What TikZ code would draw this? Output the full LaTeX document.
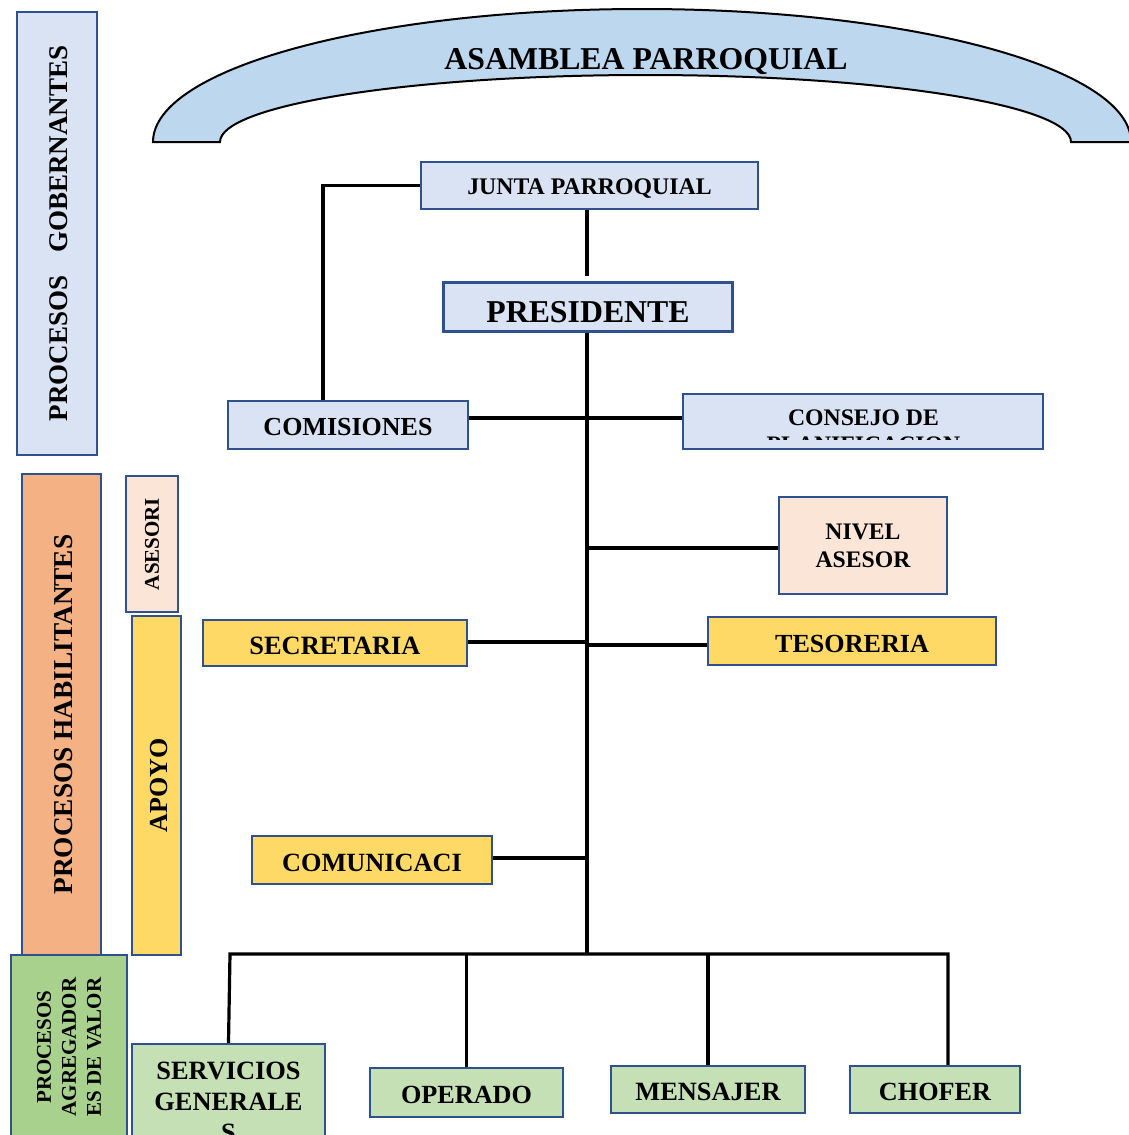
\documentclass[tikz,border=0pt]{standalone}
\usepackage{fontspec}
\setmainfont{Liberation Serif}
\usepackage{tikz}
\usetikzlibrary{positioning, calc}

\definecolor{borde}{HTML}{2F528F}
\definecolor{azulc}{HTML}{DAE3F3}
\definecolor{arcoc}{HTML}{BDD7EE}
\definecolor{salmon}{HTML}{F4B183}
\definecolor{durazno}{HTML}{FBE5D6}
\definecolor{amarillo}{HTML}{FFD966}
\definecolor{verdeo}{HTML}{A9D18E}
\definecolor{verdec}{HTML}{C5E0B4}

\begin{document}
\begin{tikzpicture}[
  x=1pt, y=-1pt,
  caja/.style   = {draw=borde, line width=2.3pt, inner sep=0pt, align=center},
  gob/.style    = {caja, fill=azulc},
  hab/.style    = {caja, fill=salmon},
  ase/.style    = {caja, fill=durazno},
  apo/.style    = {caja, fill=amarillo},
  agr/.style    = {caja, fill=verdeo},
  val/.style    = {caja, fill=verdec},
  txt/.style 2 args = {font=\fontsize{#1}{#2}\selectfont\bfseries},
  una/.style    = {text height=#1, text depth=0pt},
  arco/.style   = {draw=black, line width=2pt, fill=arcoc},
  lin/.style    = {draw=black, line width=3.2pt},
]
\useasboundingbox (0,0) rectangle (1128,1135);

%% Asamblea
\draw[arco] (153,142) arc[start angle=180, end angle=0, x radius=489pt, y radius=133pt]
  -- (1071,142) arc[start angle=0, end angle=180, x radius=425.5pt, y radius=67pt] -- cycle;
\node[txt={31.8}{36}, anchor=base] (asamblea) at (646,69) {ASAMBLEA PARROQUIAL};

%% Side bars
\node[gob, rotate=90, minimum width=443pt, minimum height=80pt, txt={27}{32}, una=21.9pt]
     (gober) at (57,233.5) {PROCESOS\hspace{0.85em}GOBERNANTES};
\node[hab, rotate=90, minimum width=481pt, minimum height=79pt, txt={27.3}{32}, una=21.1pt]
     (habil) at (61.5,714.5) {PROCESOS HABILITANTES};
\node[ase, rotate=90, minimum width=136pt, minimum height=52pt, txt={21}{25}]
     (asesori) at (152,544) {ASESORI};
\node[apo, rotate=90, minimum width=339pt, minimum height=49pt, txt={26}{30}, una=22.2pt]
     (apoyo) at (156.5,785.5) {APOYO};
\node[agr, rotate=90, minimum width=184pt, minimum height=116pt, txt={21}{25}]
     (agreg) at (69,1047) {PROCESOS\\AGREGADOR\\ES DE VALOR};

%% Junta and presidente
\node[gob, minimum width=337pt, minimum height=47pt, txt={23.8}{28}, una=17.8pt]
     (junta) at (589.5,185.5) {JUNTA PARROQUIAL};
\node[gob, minimum width=289pt, minimum height=49pt] (pres) at (588,307) {};
\begin{scope}
  \clip (pres.north west) rectangle ([yshift=9.8pt]pres.south east);
  \node[txt={31.8}{36}, anchor=base] (prestxt) at (588,322.7) {PRESIDENTE};
\end{scope}

%% Comisiones and consejo
\node[gob, minimum width=240pt, minimum height=48pt, txt={26}{30}, una=21.2pt]
     (comis) at (348,425) {COMISIONES};
\node[gob, minimum width=360pt, minimum height=55pt] (consejo) at (863,421.5) {};
\begin{scope}
  \clip (consejo.north west) rectangle ([yshift=10.2pt]consejo.south east);
  \node[txt={23.7}{26.7}, align=center, anchor=north, inner sep=0pt]
       (consejotxt) at (863.5,410) {CONSEJO DE\\PLANIFICACION};
\end{scope}

%% Asesor and apoyo
\node[ase, minimum width=168pt, minimum height=97pt, txt={23.7}{28}]
     (asesor) at (863,545.5) {NIVEL\\ASESOR};
\node[apo, minimum width=264pt, minimum height=46pt, txt={26.4}{30}, una=23.5pt]
     (secr) at (335,643) {SECRETARIA};
\node[apo, minimum width=288pt, minimum height=48pt, txt={26.1}{30}, una=23.3pt]
     (teso) at (852,641) {TESORERIA};
\node[apo, minimum width=240pt, minimum height=48pt, txt={26.3}{30}, una=22.4pt]
     (comu) at (372,860) {COMUNICACI};

%% Agregadores de valor
\node[val, minimum width=193pt, minimum height=116pt, txt={26.4}{31.3}]
     (serv) at (228.5,1102) {SERVICIOS\\GENERALE\\S};
\node[val, minimum width=193pt, minimum height=49pt, txt={26.2}{30}, una=22.3pt]
     (oper) at (466.5,1092.5) {OPERADO};
\node[val, minimum width=194pt, minimum height=47pt, txt={26.4}{30}, una=22.4pt]
     (mens) at (708,1089.5) {MENSAJER};
\node[val, minimum width=170pt, minimum height=47pt, txt={26.2}{30}, una=22.3pt]
     (chof) at (935,1089.5) {CHOFER};

%% Connectors
\coordinate (eje)  at (587,0);
\coordinate (bus)  at (587,954);
\coordinate (busI) at (230,954);
\coordinate (busD) at (948,954);

\draw[lin, shorten >=5pt] (junta.south -| eje) -- (pres.north -| eje);
\draw[lin] (junta.west) -| ([xshift=-25pt]comis.north);
\draw[lin] (pres.south -| eje) -- (bus);
\draw[lin] ([yshift=7pt]comis.east) -- ([yshift=7pt]comis.east -| consejo.west);
\draw[lin] ([yshift=-2.5pt]asesor.west -| eje) -- ([yshift=-2.5pt]asesor.west);
\draw[lin] ([yshift=1pt]secr.east) -- ([yshift=1pt]secr.east -| eje);
\draw[lin] ([yshift=-4pt]teso.west -| eje) -- ([yshift=-4pt]teso.west);
\draw[lin] ([yshift=2pt]comu.east) -- ([yshift=2pt]comu.east -| eje);
\draw[lin] (serv.north) -- (busI) -- (busD) -- (busD |- chof.north);
\draw[lin] (oper.north |- busI) -- (oper.north);
\draw[lin] (mens.north |- busI) -- (mens.north);

\end{tikzpicture}
\end{document}
